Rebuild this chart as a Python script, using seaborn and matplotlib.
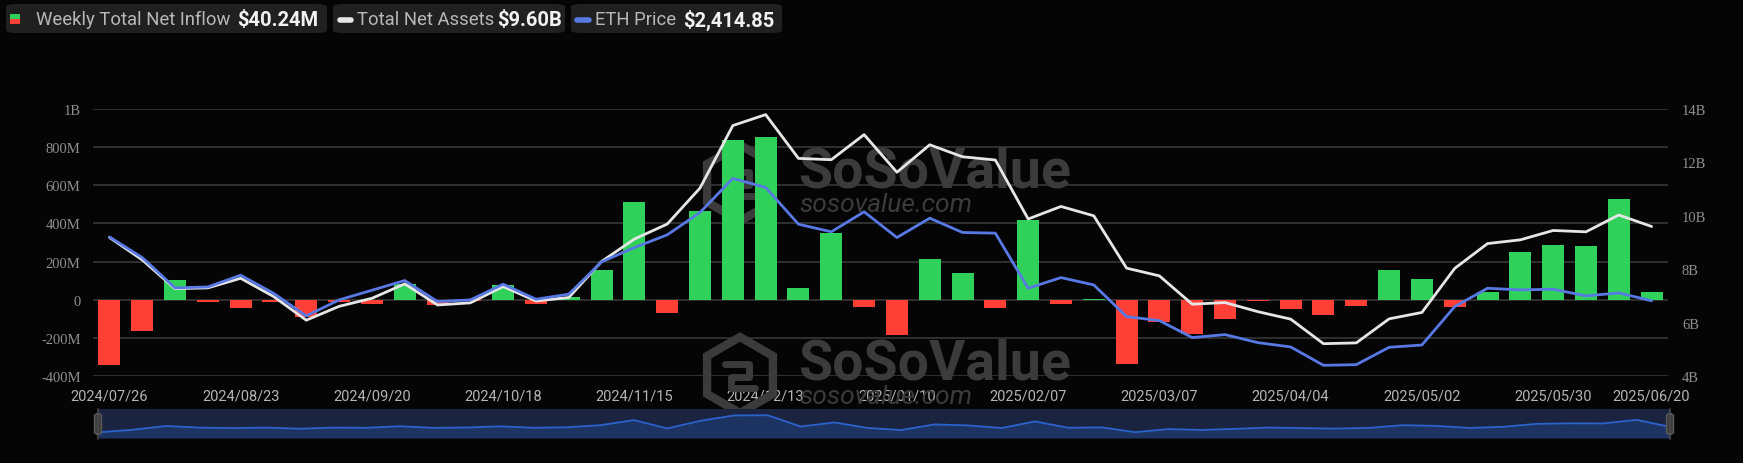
import numpy as np
import pandas as pd
import matplotlib
matplotlib.use('Agg')
import matplotlib.pyplot as plt
import seaborn as sns
from matplotlib.patches import FancyBboxPatch, Rectangle

# weekly data, 2024/07/26 .. 2025/06/20
weeks = pd.date_range('2024-07-26', '2025-06-20', freq='7D').strftime('%Y/%m/%d')
inflow_m = [-340, -166, 103, -12, -44, -12, -91, -12, -24, 82,
            -30, -5, 77, -23, 12, 154, 513, -70, 466, 838,
            855, 63, 349, -37, -185, 211, 140, -42, 419, -23,
            3, -335, -117, -178, -100, -9, -49, -82, -31, 157,
            106, -37, 42, 248, 286, 281, 529, 40.24]
assets_b = [9.19, 8.35, 7.27, 7.30, 7.66, 6.98, 6.09, 6.61, 6.91, 7.45,
            6.66, 6.74, 7.35, 6.81, 6.94, 8.29, 9.13, 9.69, 11.04, 13.38,
            13.79, 12.15, 12.10, 13.04, 11.63, 12.66, 12.21, 12.09, 9.88, 10.35,
            10.00, 8.04, 7.75, 6.69, 6.75, 6.41, 6.13, 5.21, 5.24, 6.14,
            6.38, 8.03, 8.96, 9.10, 9.45, 9.40, 10.03, 9.60]
eth_price = [3276, 2997, 2588, 2601, 2759, 2516, 2210, 2426, 2556, 2687,
             2404, 2426, 2638, 2435, 2503, 2939, 3132, 3303, 3605, 4064,
             3942, 3447, 3344, 3614, 3267, 3528, 3335, 3326, 2583, 2727,
             2628, 2201, 2147, 1918, 1958, 1850, 1792, 1544, 1553, 1787,
             1818, 2336, 2583, 2561, 2570, 2480, 2520, 2414.85]
tick_dates = ['2024/07/26', '2024/08/23', '2024/09/20', '2024/10/18', '2024/11/15',
              '2024/12/13', '2025/01/10', '2025/02/07', '2025/03/07', '2025/04/04',
              '2025/05/02', '2025/05/30', '2025/06/20']
left_ticks = [-400e6, -200e6, 0, 200e6, 400e6, 600e6, 800e6, 1e9]
left_labels = ['-400M', '-200M', '0', '200M', '400M', '600M', '800M', '1B']
right_ticks = [4e9, 6e9, 8e9, 10e9, 12e9, 14e9]
right_labels = ['4B', '6B', '8B', '10B', '12B', '14B']

df = pd.DataFrame({'week': weeks, 'inflow': np.array(inflow_m) * 1e6,
                   'assets': np.array(assets_b) * 1e9, 'eth': eth_price})
df['sign'] = np.where(df['inflow'] >= 0, 'in', 'out')
df['x'] = np.arange(len(df))

BG = '#050505'
GREEN = '#2fd15a'
RED = '#fe3f36'
WHITE = '#e6e6e6'
BLUE = '#5878e4'
GRID = '#333333'
WM = '#3b3b3b'

sns.set_style('dark')
plt.rcParams['font.family'] = ['Roboto', 'DejaVu Sans']

W, H = 1743, 464
fig = plt.figure(figsize=(W / 100, H / 100), dpi=100, facecolor=BG)


def fx(x):
    return np.asarray(x) / W


def fy(y):
    return 1 - np.asarray(y) / H


ax = fig.add_axes([fx(93), fy(377), fx(1668) - fx(93), fy(110) - fy(377)])
ax.set_facecolor(BG)
sns.barplot(data=df, x='week', y='inflow', hue='sign', palette={'in': GREEN, 'out': RED},
            dodge=False, width=0.67, saturation=1, legend=False, ax=ax, zorder=2,
            edgecolor='none', linewidth=0)
ax.set_xlim(-0.5, len(df) - 0.5)
ax.set_ylim(-400e6, 1e9)
ax.set_yticks(left_ticks, left_labels, fontfamily='Liberation Serif')
ax.yaxis.grid(True, color=GRID, lw=1.3)
ax.xaxis.grid(False)
ax.set_axisbelow(True)
tick_pos = [list(weeks).index(d) for d in tick_dates]
ax.set_xticks(tick_pos, tick_dates)
ax.tick_params(axis='x', colors='#b4b4b4', labelsize=10.5, length=0, pad=9)
ax.tick_params(axis='y', colors='#8e8e8e', labelsize=10.5, length=0, pad=9)
ax.set_xlabel('')
ax.set_ylabel('')
for s in ax.spines.values():
    s.set_visible(False)

# total net assets
ax2 = ax.twinx()
sns.lineplot(data=df, x='x', y='assets', color=WHITE, lw=2, ax=ax2)
ax2.set_ylim(4e9, 14e9)
ax2.set_yticks(right_ticks, right_labels, fontfamily='Liberation Serif')
ax2.tick_params(axis='y', colors='#8e8e8e', labelsize=10.5, length=0, pad=10)
ax2.grid(False)
ax2.set_ylabel('')
for s in ax2.spines.values():
    s.set_visible(False)

# eth price (hidden scale)
ax3 = ax.twinx()
sns.lineplot(data=df, x='x', y='eth', color=BLUE, lw=2, ax=ax3)
ax3.set_ylim(1400, 5000)
ax3.set_yticks([])
ax3.set_ylabel('')
ax3.grid(False)
for s in ax3.spines.values():
    s.set_visible(False)
ax.set_xlim(-0.5, len(df) - 0.5)

# watermarks
for base in (188, 380):
    ax.text(fx(798), fy(base), 'SoSoValue', transform=fig.transFigure, fontsize=40,
            fontweight='bold', color=WM, va='baseline', ha='left', zorder=1)
    ax.text(fx(799), fy(base + 24), 'sosovalue.com', transform=fig.transFigure,
            fontsize=19, style='italic', color=WM, va='baseline', ha='left', zorder=1)
    cy = base - 4
    ang = np.deg2rad(np.arange(6) * 60 + 90)
    hx = 740 + 38 * np.cos(ang)
    hy = cy - 38 * np.sin(ang)
    ax.add_patch(plt.Polygon(np.column_stack([fx(hx), fy(hy)]), closed=True, fill=False,
                             ec=WM, lw=6, transform=fig.transFigure, zorder=1, clip_on=False))
    ix = 740 + np.array([-15, 9, 9, -9, -9, 15])
    iy = cy + np.array([-11, -11, 2, 2, 13, 13])
    ax.add_line(plt.Line2D(fx(ix), fy(iy), color=WM, lw=5, transform=fig.transFigure,
                           zorder=1, clip_on=False))

# bottom range slider
ax4 = fig.add_axes([fx(99), fy(439), fx(1670) - fx(99), fy(410) - fy(439)])
ax4.set_facecolor('#1a2440')
ax4.fill_between(df['x'], df['inflow'], -740e6, color='#1d3463', lw=0)
sns.lineplot(data=df, x='x', y='inflow', color='#2c62cc', lw=1.3, ax=ax4)
ax4.set_xlim(0, len(df) - 1)
ax4.set_ylim(-740e6, 1290e6)
ax4.set_xticks([])
ax4.set_yticks([])
ax4.set_xlabel('')
ax4.set_ylabel('')
ax4.grid(False)
for s in ax4.spines.values():
    s.set_visible(False)
for hxp in (98, 1670):
    fig.add_artist(plt.Line2D([fx(hxp), fx(hxp)], [fy(410), fy(440)], color='#4a4a4a', lw=1.2))
    fig.add_artist(FancyBboxPatch((fx(hxp - 3.5), fy(435)), fx(7), 20 / H,
                                  boxstyle='round,pad=0,rounding_size=0.003',
                                  fc='#3c3c3c', ec='#5a5a5a', lw=1,
                                  transform=fig.transFigure))

# top legend chips
chips = [(6, 327), (333, 565), (571, 782)]
for x0, x1 in chips:
    fig.add_artist(FancyBboxPatch((fx(x0), fy(34)), fx(x1 - x0), 29 / H,
                                  boxstyle='round,pad=0,rounding_size=0.006',
                                  fc='#202020', ec='none', transform=fig.transFigure))
fig.add_artist(Rectangle((fx(10), fy(20)), fx(10), 5 / H, fc=GREEN, ec='none',
                         transform=fig.transFigure))
fig.add_artist(Rectangle((fx(10), fy(25)), fx(10), 5 / H, fc=RED, ec='none',
                         transform=fig.transFigure))
fig.add_artist(plt.Line2D([fx(340), fx(351)], [fy(20.5), fy(20.5)], color=WHITE, lw=4,
                          solid_capstyle='round'))
fig.add_artist(plt.Line2D([fx(577), fx(589)], [fy(20.5), fy(20.5)], color=BLUE, lw=4,
                          solid_capstyle='round'))
legend_items = [(36, 'Weekly Total Net Inflow', 237, '$40.24M'),
                (357, 'Total Net Assets', 497, '$9.60B'),
                (595, 'ETH Price', 683, '$2,414.85')]
for lx, label, vx, value in legend_items:
    fig.text(fx(lx), fy(20), label, color='#b8b8b8', fontsize=13.3, va='center', ha='left')
    fig.text(fx(vx), fy(20), value, color='#f2f2f2', fontsize=14.5, fontweight='bold',
             va='center', ha='left')

fig.savefig('out.png', dpi=100, facecolor=BG)
